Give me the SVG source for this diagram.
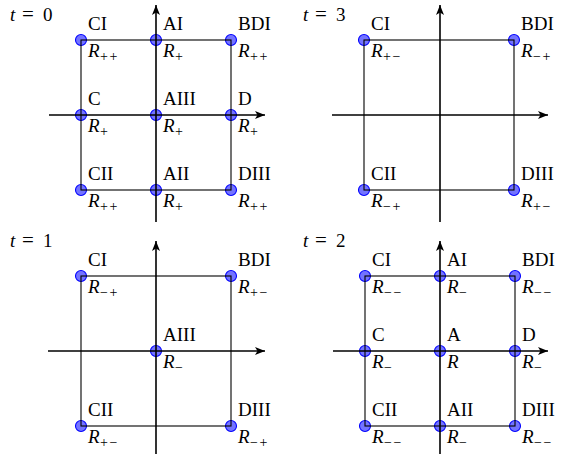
<svg xmlns="http://www.w3.org/2000/svg" width="561" height="454" viewBox="0 0 561 454">
<style>
text{font-family:"Liberation Serif","DejaVu Serif",serif;font-size:19px;fill:#000}
.r{font-style:italic}
.s{font-size:14px;font-style:normal;letter-spacing:1.5px}
.n{fill:#7373ff;stroke:#0000ff;stroke-width:1.1}
.sq{stroke:#000;stroke-width:1.1;fill:none}
.ax{stroke:#000;stroke-width:1.6;fill:none;marker-end:url(#ar)}
</style>
<defs>
<marker id="ar" markerUnits="userSpaceOnUse" markerWidth="12" markerHeight="10" refX="10" refY="4" orient="auto">
<path d="M0,0 L10,4 L0,8 L2.5,4 Z" fill="#000"/>
</marker>
</defs>
<g id="titles">
<text y="21"><tspan class="r" x="10">t</tspan><tspan x="22" font-size="21">=</tspan><tspan x="43">0</tspan></text>
<text y="21"><tspan class="r" x="303">t</tspan><tspan x="315" font-size="21">=</tspan><tspan x="336">3</tspan></text>
<text y="247"><tspan class="r" x="10">t</tspan><tspan x="22" font-size="21">=</tspan><tspan x="43">1</tspan></text>
<text y="247"><tspan class="r" x="303">t</tspan><tspan x="315" font-size="21">=</tspan><tspan x="336">2</tspan></text>
</g>
<!-- t=0 -->
<g id="t0-CI"><circle class="n" cx="81" cy="40" r="5.5"/><text x="88" y="30">CI</text><text x="88" y="57" class="r">R<tspan class="s" dx="0.5" dy="4">++</tspan></text></g>
<g id="t0-AI"><circle class="n" cx="156" cy="40" r="5.5"/><text x="163" y="30">AI</text><text x="163" y="57" class="r">R<tspan class="s" dx="0.5" dy="4">+</tspan></text></g>
<g id="t0-BDI"><circle class="n" cx="231" cy="40" r="5.5"/><text x="238" y="30">BDI</text><text x="238" y="57" class="r">R<tspan class="s" dx="0.5" dy="4">++</tspan></text></g>
<g id="t0-C"><circle class="n" cx="81" cy="115" r="5.5"/><text x="88" y="105">C</text><text x="88" y="132" class="r">R<tspan class="s" dx="0.5" dy="4">+</tspan></text></g>
<g id="t0-AIII"><circle class="n" cx="156" cy="115" r="5.5"/><text x="163" y="105">AIII</text><text x="163" y="132" class="r">R<tspan class="s" dx="0.5" dy="4">+</tspan></text></g>
<g id="t0-D"><circle class="n" cx="231" cy="115" r="5.5"/><text x="238" y="105">D</text><text x="238" y="132" class="r">R<tspan class="s" dx="0.5" dy="4">+</tspan></text></g>
<g id="t0-CII"><circle class="n" cx="81" cy="190" r="5.5"/><text x="88" y="180">CII</text><text x="88" y="207" class="r">R<tspan class="s" dx="0.5" dy="4">++</tspan></text></g>
<g id="t0-AII"><circle class="n" cx="156" cy="190" r="5.5"/><text x="163" y="180">AII</text><text x="163" y="207" class="r">R<tspan class="s" dx="0.5" dy="4">+</tspan></text></g>
<g id="t0-DIII"><circle class="n" cx="231" cy="190" r="5.5"/><text x="238" y="180">DIII</text><text x="238" y="207" class="r">R<tspan class="s" dx="0.5" dy="4">++</tspan></text></g>
<!-- t=3 -->
<g id="t3-CI"><circle class="n" cx="364" cy="40" r="5.5"/><text x="371" y="30">CI</text><text x="371" y="57" class="r">R<tspan class="s" dx="0.5" dy="4">+−</tspan></text></g>
<g id="t3-BDI"><circle class="n" cx="514" cy="40" r="5.5"/><text x="521" y="30">BDI</text><text x="521" y="57" class="r">R<tspan class="s" dx="0.5" dy="4">−+</tspan></text></g>
<g id="t3-CII"><circle class="n" cx="364" cy="190" r="5.5"/><text x="371" y="180">CII</text><text x="371" y="207" class="r">R<tspan class="s" dx="0.5" dy="4">−+</tspan></text></g>
<g id="t3-DIII"><circle class="n" cx="514" cy="190" r="5.5"/><text x="521" y="180">DIII</text><text x="521" y="207" class="r">R<tspan class="s" dx="0.5" dy="4">+−</tspan></text></g>
<!-- t=1 -->
<g id="t1-CI"><circle class="n" cx="81" cy="276" r="5.5"/><text x="88" y="266">CI</text><text x="88" y="293" class="r">R<tspan class="s" dx="0.5" dy="4">−+</tspan></text></g>
<g id="t1-BDI"><circle class="n" cx="231" cy="276" r="5.5"/><text x="238" y="266">BDI</text><text x="238" y="293" class="r">R<tspan class="s" dx="0.5" dy="4">+−</tspan></text></g>
<g id="t1-AIII"><circle class="n" cx="156" cy="351" r="5.5"/><text x="163" y="341">AIII</text><text x="163" y="368" class="r">R<tspan class="s" dx="0.5" dy="4">−</tspan></text></g>
<g id="t1-CII"><circle class="n" cx="81" cy="426" r="5.5"/><text x="88" y="416">CII</text><text x="88" y="443" class="r">R<tspan class="s" dx="0.5" dy="4">+−</tspan></text></g>
<g id="t1-DIII"><circle class="n" cx="231" cy="426" r="5.5"/><text x="238" y="416">DIII</text><text x="238" y="443" class="r">R<tspan class="s" dx="0.5" dy="4">−+</tspan></text></g>
<!-- t=2 -->
<g id="t2-CI"><circle class="n" cx="365" cy="276" r="5.5"/><text x="372" y="266">CI</text><text x="372" y="293" class="r">R<tspan class="s" dx="0.5" dy="4">−−</tspan></text></g>
<g id="t2-AI"><circle class="n" cx="440" cy="276" r="5.5"/><text x="447" y="266">AI</text><text x="447" y="293" class="r">R<tspan class="s" dx="0.5" dy="4">−</tspan></text></g>
<g id="t2-BDI"><circle class="n" cx="515" cy="276" r="5.5"/><text x="522" y="266">BDI</text><text x="522" y="293" class="r">R<tspan class="s" dx="0.5" dy="4">−−</tspan></text></g>
<g id="t2-C"><circle class="n" cx="365" cy="351" r="5.5"/><text x="372" y="341">C</text><text x="372" y="368" class="r">R<tspan class="s" dx="0.5" dy="4">−</tspan></text></g>
<g id="t2-A"><circle class="n" cx="440" cy="351" r="5.5"/><text x="447" y="341">A</text><text x="447" y="368" class="r">R</text></g>
<g id="t2-D"><circle class="n" cx="515" cy="351" r="5.5"/><text x="522" y="341">D</text><text x="522" y="368" class="r">R<tspan class="s" dx="0.5" dy="4">−</tspan></text></g>
<g id="t2-CII"><circle class="n" cx="365" cy="426" r="5.5"/><text x="372" y="416">CII</text><text x="372" y="443" class="r">R<tspan class="s" dx="0.5" dy="4">−−</tspan></text></g>
<g id="t2-AII"><circle class="n" cx="440" cy="426" r="5.5"/><text x="447" y="416">AII</text><text x="447" y="443" class="r">R<tspan class="s" dx="0.5" dy="4">−</tspan></text></g>
<g id="t2-DIII"><circle class="n" cx="515" cy="426" r="5.5"/><text x="522" y="416">DIII</text><text x="522" y="443" class="r">R<tspan class="s" dx="0.5" dy="4">−−</tspan></text></g>
<g id="connectors">
<rect class="sq" x="81" y="40" width="150" height="150"/>
<path class="ax" d="M49,115 H265"/>
<path class="ax" d="M156,222 V5"/>
<rect class="sq" x="364" y="40" width="150" height="150"/>
<path class="ax" d="M332,115 H548"/>
<path class="ax" d="M440,222 V5"/>
<rect class="sq" x="81" y="276" width="150" height="150"/>
<path class="ax" d="M48,351 H265"/>
<path class="ax" d="M156,454 V241"/>
<rect class="sq" x="365" y="276" width="150" height="150"/>
<path class="ax" d="M333,351 H548"/>
<path class="ax" d="M440,454 V241"/>
</g>
</svg>
